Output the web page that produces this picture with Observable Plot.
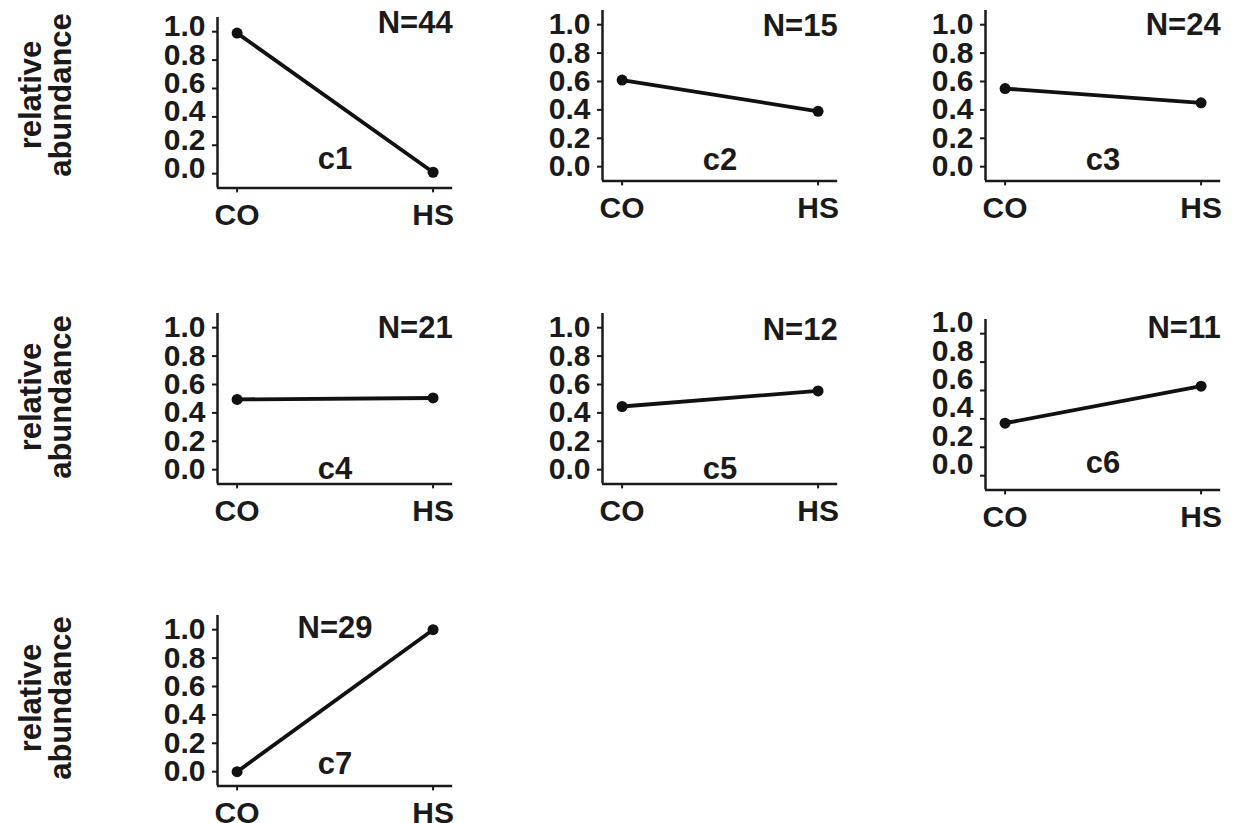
<!DOCTYPE html>
<html>
<head>
<meta charset="utf-8">
<script src="https://cdn.jsdelivr.net/npm/d3@7"></script>
<script src="https://cdn.jsdelivr.net/npm/@observablehq/plot@0.6"></script>
<style>
  html, body { margin: 0; padding: 0; background: #fff; }
  #root { position: relative; width: 1238px; height: 823px; overflow: hidden; background: #fff; }
  .panel { position: absolute; }
  .ytitle {
    position: absolute; width: 220px; height: 60px;
    font-family: "Liberation Sans", Arial, sans-serif; font-weight: bold;
    font-size: 31px; line-height: 30px; color: #1a1a1a; text-align: center;
    transform: rotate(-90deg); transform-origin: 50% 50%;
  }
</style>
</head>
<body>
<div id="root"></div>
<script>
// ---- data ----
const clusters = ["c1", "c2", "c3", "c4", "c5", "c6", "c7"];
const counts = [44, 15, 24, 21, 12, 11, 29];
const conditions = ["CO", "HS"];
const coValues = [0.99, 0.61, 0.55, 0.495, 0.445, 0.37, 0.0];
const hsValues = [0.01, 0.39, 0.45, 0.505, 0.555, 0.63, 1.0];
const yTicks = [0, 0.2, 0.4, 0.6, 0.8, 1.0];
const yTitle = ["relative", "abundance"];

// ---- layout (page positions of each panel frame) ----
const layout = [
  {left: 217, y1: 31,  labelDy: -5,  nAnchor: "right",  nDy: -7, cDy: -19},
  {left: 602, y1: 24,  labelDy: 0,   nAnchor: "right",  nDy: 3,  cDy: -11},
  {left: 985, y1: 24,  labelDy: 0,   nAnchor: "right",  nDy: 2,  cDy: -11},
  {left: 217, y1: 327, labelDy: 0,   nAnchor: "right",  nDy: 2,  cDy: -5},
  {left: 602, y1: 327, labelDy: 0,   nAnchor: "right",  nDy: 4,  cDy: -5},
  {left: 985, y1: 333, labelDy: -11, nAnchor: "right",  nDy: -4, cDy: -17},
  {left: 217, y1: 629, labelDy: 0,   nAnchor: "center", nDy: 0,  cDy: -12}
];
const rowTitleCenters = [{x: 46, y: 95}, {x: 46, y: 397}, {x: 46, y: 698}];

const xUnit = 196, yUnit = 142;
const W = 1.2 * xUnit, H = 1.2 * yUnit;
const mL = 70, mR = 12, mT = 34, mB = 52;
const ink = "#1a1a1a";
const font = "'Liberation Sans', Arial, sans-serif";

const root = document.getElementById("root");

clusters.forEach((c, i) => {
  const L = layout[i];
  const data = conditions.map((g, k) => ({
    cond: g, xi: k, value: k === 0 ? coValues[i] : hsValues[i]
  }));
  const plot = Plot.plot({
    width: mL + W + mR,
    height: mT + H + mB,
    marginLeft: mL, marginRight: mR, marginTop: mT, marginBottom: mB,
    style: {fontFamily: font, fontWeight: "bold", fontSize: "30px", color: ink, background: "transparent"},
    x: {domain: [-0.1, 1.1], axis: null},
    y: {domain: [-0.1, 1.1], axis: null},
    marks: [
      Plot.ruleX([-0.1], {stroke: ink, strokeWidth: 2.5}),
      Plot.ruleY([-0.1], {stroke: ink, strokeWidth: 2.5}),
      // y ticks
      Plot.axisY({ticks: yTicks, tickSize: 5, tickPadding: 7, fill: "none", stroke: ink, strokeWidth: 2, label: null}),
      // y labels
      Plot.axisY({ticks: yTicks, tickSize: 5, tickPadding: 7, stroke: "none", fill: ink,
        tickFormat: d3.format(".1f"), dy: L.labelDy, fontSize: 30, label: null}),
      // x ticks + labels
      Plot.axisX({ticks: [0, 1], tickFormat: k => conditions[k], tickSize: 5, tickPadding: 11,
        stroke: ink, strokeWidth: 2, fill: ink, fontSize: 30, label: null}),
      Plot.line(data, {x: "xi", y: "value", stroke: "#111", strokeWidth: 3.8}),
      Plot.dot(data, {x: "xi", y: "value", fill: "#111", r: 5.5, stroke: null}),
      Plot.text([counts[i]], {
        text: d => "N=" + d,
        frameAnchor: L.nAnchor === "right" ? "top-right" : "top",
        textAnchor: L.nAnchor === "right" ? "end" : "middle",
        lineAnchor: "top", dy: L.nDy, fontSize: 31, fill: ink
      }),
      Plot.text([c], {
        text: d => d, frameAnchor: "bottom", lineAnchor: "bottom",
        dy: L.cDy, fontSize: 31, fill: ink
      })
    ]
  });
  plot.classList.add("panel");
  plot.style.left = (L.left - mL) + "px";
  plot.style.top = (L.y1 - 0.1 * yUnit - mT) + "px";
  plot.style.overflow = "visible";
  root.appendChild(plot);
});

rowTitleCenters.forEach(p => {
  const d = document.createElement("div");
  d.className = "ytitle";
  d.innerHTML = yTitle.join("<br>");
  d.style.left = (p.x - 110) + "px";
  d.style.top = (p.y - 30) + "px";
  root.appendChild(d);
});
</script>
</body>
</html>
